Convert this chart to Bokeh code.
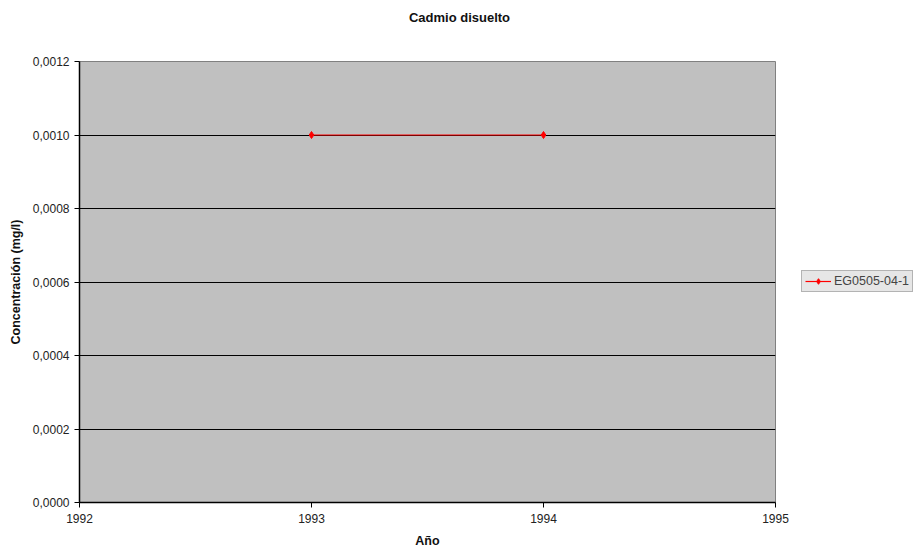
from bokeh.plotting import figure
from bokeh.models import Range1d, FixedTicker, Legend, LegendItem, Div
from bokeh.layouts import column
from bokeh.embed import file_html
from bokeh.resources import INLINE

title_text = "Cadmio disuelto"
years = [1993, 1994]
conc = [0.0010, 0.0010]
series_name = "EG0505-04-1"
x_ticks = [1992, 1993, 1994, 1995]
y_ticks = [0.0, 0.0002, 0.0004, 0.0006, 0.0008, 0.0010, 0.0012]
y_tick_labels = ["0,0000", "0,0002", "0,0004", "0,0006", "0,0008", "0,0010", "0,0012"]

FONT = "Liberation Sans"

title_div = Div(
    text=('<div style="width:919px;text-align:center;font-family:\'Liberation Sans\';'
          'font-weight:bold;font-size:13px;line-height:15px;color:#111111;padding-top:10px;">'
          + title_text + '</div>'),
    width=919, height=30, margin=0)

p = figure(frame_width=696, frame_height=441, output_backend="svg", toolbar_location=None,
           x_range=Range1d(1992, 1995), y_range=Range1d(0, 0.0012),
           min_border_left=79, min_border_right=144, min_border_top=31, min_border_bottom=55,
           margin=0)

p.background_fill_color = "#c0c0c0"
p.border_fill_color = "white"
p.outline_line_color = "#808080"

p.xgrid.grid_line_color = None
p.ygrid.grid_line_color = "black"
p.ygrid.grid_line_width = 1

p.xaxis.ticker = FixedTicker(ticks=x_ticks)
p.yaxis.ticker = FixedTicker(ticks=y_ticks)
p.yaxis.major_label_overrides = {t: l for t, l in zip(y_ticks, y_tick_labels)}
p.xaxis.major_label_overrides = {t: str(t) for t in x_ticks}

for ax in (p.xaxis[0], p.yaxis[0]):
    ax.axis_line_color = "black"
    ax.axis_line_width = 1.5
    ax.major_tick_line_color = "black"
    ax.major_tick_in = 0
    ax.major_tick_out = 5
    ax.minor_tick_line_color = None
    ax.major_label_text_font = FONT
    ax.major_label_text_font_size = "12px"
    ax.major_label_text_color = "#222222"
    ax.axis_label_text_font = FONT
    ax.axis_label_text_font_size = "12.5px"
    ax.axis_label_text_font_style = "bold"
    ax.axis_label_text_color = "#111111"

p.xaxis.axis_label = "Año"
p.yaxis.axis_label = "Concentración (mg/l)"
p.xaxis.major_label_standoff = 6
p.xaxis.axis_label_standoff = 8
p.yaxis.major_label_standoff = 5
p.yaxis.axis_label_standoff = 7

r_line = p.line(years, conc, line_color="red", line_width=1.2)
r_pts = p.scatter(years, conc, marker="diamond", size=7, fill_color="red", line_color="red")

legend = Legend(items=[LegendItem(label=series_name, renderers=[r_line, r_pts])],
                location=(26, 210), orientation="vertical")
legend.label_text_font = FONT
legend.label_text_font_size = "12.5px"
legend.background_fill_color = "#e6e6e6"
legend.background_fill_alpha = 1
legend.border_line_color = "#808080"
legend.padding = 3
legend.margin = 0
legend.spacing = 0
legend.glyph_width = 26
legend.glyph_height = 14
legend.label_standoff = 3
legend.label_height = 14
p.add_layout(legend, "right")

layout = column(title_div, p, spacing=0, margin=0)

open("out.html", "w").write(file_html(layout, INLINE))
